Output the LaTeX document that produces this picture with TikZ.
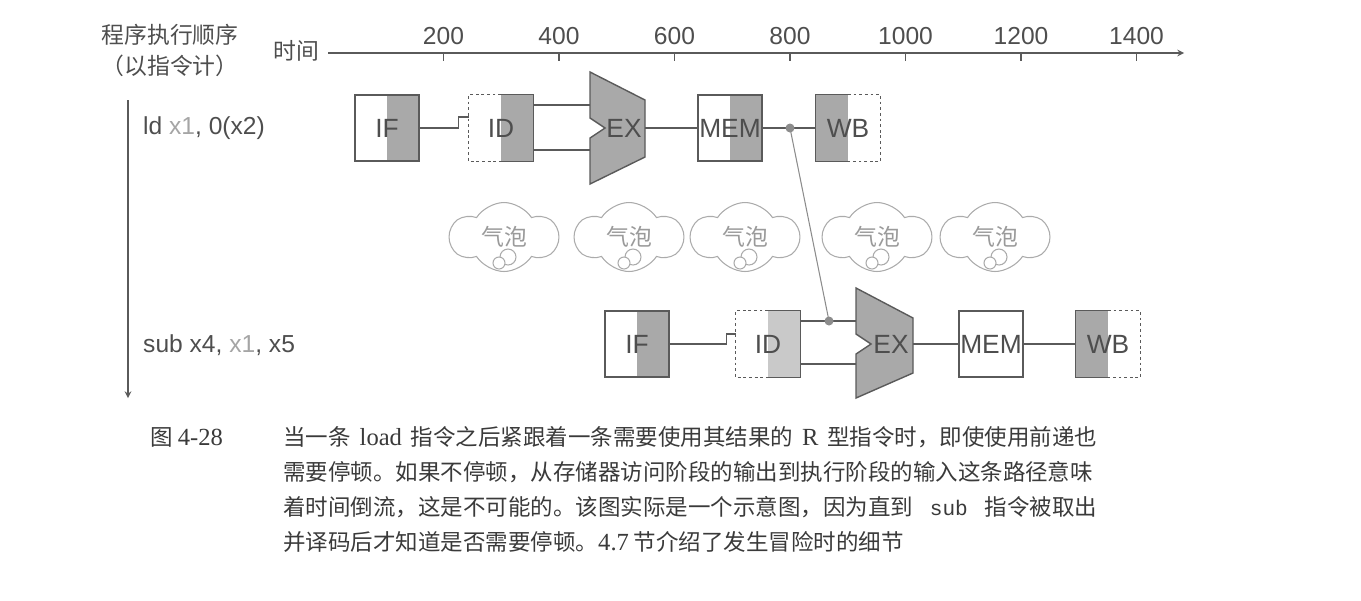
\documentclass[tikz,border=0pt]{standalone}
\usepackage{fontspec}
\setmainfont{Liberation Sans}
\newfontfamily\cjk{Noto Sans CJK SC}
\newfontfamily\capserif{Liberation Serif}
\newfontfamily\capmono{Liberation Mono}
\usetikzlibrary{shapes.symbols}
\XeTeXlinebreaklocale "zh"
\XeTeXlinebreakskip=0pt plus 3pt minus 0.3pt

\definecolor{linegray}{HTML}{5A5A5A}
\definecolor{stagegray}{HTML}{A9A9A9}
\definecolor{lightstage}{HTML}{C9C9C9}
\definecolor{txtgray}{HTML}{4E4E4E}
\definecolor{reggray}{HTML}{A5A5A5}
\definecolor{cloudgray}{HTML}{ABABAB}
\definecolor{bubbletext}{HTML}{9A9A9A}
\definecolor{dotgray}{HTML}{8C8C8C}
\definecolor{captext}{HTML}{3A3A3A}

\tikzset{
  wire/.style={draw=linegray, line width=0.8pt},
  stage/.style={rectangle, minimum width=1.28cm, minimum height=1.32cm, inner sep=0pt,
    text=txtgray, font=\fontsize{15}{15}\selectfont},
  grayright/.style={path picture={\fill[#1] (path picture bounding box.north) rectangle (path picture bounding box.south east);}},
  grayleft/.style={path picture={\fill[#1] (path picture bounding box.north west) rectangle (path picture bounding box.south);}},
  halfdash/.style={draw=linegray, line width=0.8pt, dash pattern=on 1.6pt off 1.6pt},
  alu/.style={fill=stagegray, draw=linegray, line width=0.8pt},
  bubble/.style={cloud, cloud puffs=6, cloud puff arc=115, aspect=1.6, draw=cloudgray, line width=0.6pt,
    minimum width=2.15cm, minimum height=1.38cm, text=bubbletext, font=\cjk\fontsize{13}{13}\selectfont},
  fwddot/.style={circle, fill=dotgray, inner sep=0pt, minimum size=0.18cm},
  lbl/.style={text=txtgray, font=\fontsize{14}{14}\selectfont},
  capt/.style={text=captext, inner sep=0pt, font=\cjk\fontsize{12.8}{12.8}\selectfont},
}

\begin{document}
\begin{tikzpicture}[x=0.02cm, y=-0.02cm]
\useasboundingbox (0,0) rectangle (1361,600);

% axes
\node[lbl, font=\cjk\fontsize{13}{13}\selectfont] (order) at (170,35) {程序执行顺序};
\node[lbl, font=\cjk\fontsize{13}{13}\selectfont] (ordernote) at (170,66) {（以指令计）};
\node[lbl, font=\cjk\fontsize{13}{13}\selectfont] (time) at (296,51) {时间};
\coordinate (tstart) at (328,53);
\coordinate (tend) at (1184,53);
\draw[wire, line width=0.7pt, -stealth] (tstart) -- (tend);
\foreach \t in {200,400,...,1400} {
  \draw[wire, line width=0.7pt] (328+0.5775*\t,53) -- (328+0.5775*\t,61);
  \node[lbl] (tick\t) at (328+0.5775*\t,36) {\t};
}
\coordinate (otop) at (128,100);
\coordinate (obot) at (128,398);
\draw[wire, line width=0.7pt, -stealth] (otop) -- (obot);

\node[lbl, anchor=west] (instr1) at (137,128) {ld \textcolor{reggray}{x1}, 0(x2)};
\node[lbl, anchor=west] (instr2) at (137,345) {sub x4, \textcolor{reggray}{x1}, x5};

% ld pipeline
\node[stage, grayright=stagegray, draw=linegray, line width=0.8pt] (if1) at (387,128) {IF};
\node[stage, grayright=stagegray] (id1) at (501,128) {ID};
\draw[wire] (id1.north) -| (id1.east) |- (id1.south);
\draw[halfdash] (id1.north) -- (id1.north west) -- (id1.south west) -- (id1.south);
\filldraw[alu] (590,72) -- (645,100) -- (645,157) -- (590,184) -- (590,138) -- (605,128) -- (590,118) -- cycle;
\node[stage, minimum width=0.8cm] (ex1) at (624,128) {EX};
\coordinate (ex1a) at (590,105);
\coordinate (ex1b) at (590,150);
\coordinate (ex1o) at (645,128);
\node[stage, grayright=stagegray, draw=linegray, line width=0.8pt] (mem1) at (730,128) {MEM};
\node[stage, grayleft=stagegray] (wb1) at (848,128) {WB};
\draw[wire] (wb1.north) -| (wb1.west) |- (wb1.south);
\draw[halfdash] (wb1.north) -- (wb1.north east) -- (wb1.south east) -- (wb1.south);

\draw[wire] (if1.east) -- ++(39,0) |- ([yshift=0.22cm]id1.west);
\draw[wire] (id1.east |- ex1a) -- (ex1a);
\draw[wire] (id1.east |- ex1b) -- (ex1b);
\draw[wire] (ex1o) -- (mem1);
\draw[wire] (mem1) -- (wb1);

% bubbles
\foreach \cx [count=\i] in {504,629,745,877,995} {
  \node[bubble] (bub\i) at (\cx,237) {气泡};
  \draw[draw=cloudgray, line width=0.6pt, fill=white] (\cx+4,257) circle (0.16cm);
  \draw[draw=cloudgray, line width=0.6pt, fill=white] (\cx-5,263) circle (0.12cm);
}

% sub pipeline
\node[stage, grayright=stagegray, draw=linegray, line width=0.8pt] (if2) at (637,344) {IF};
\node[stage, grayright=lightstage] (id2) at (768,344) {ID};
\draw[wire] (id2.north) -| (id2.east) |- (id2.south);
\draw[halfdash] (id2.north) -- (id2.north west) -- (id2.south west) -- (id2.south);
\filldraw[alu] (856,288) -- (913,318) -- (913,373) -- (856,398) -- (856,354) -- (871,344) -- (856,334) -- cycle;
\node[stage, minimum width=0.8cm] (ex2) at (891,344) {EX};
\coordinate (ex2a) at (856,321);
\coordinate (ex2b) at (856,364);
\coordinate (ex2o) at (913,344);
\node[stage, draw=linegray, line width=0.8pt] (mem2) at (991,344) {MEM};
\node[stage, grayleft=stagegray] (wb2) at (1108,344) {WB};
\draw[wire] (wb2.north) -| (wb2.west) |- (wb2.south);
\draw[halfdash] (wb2.north) -- (wb2.north east) -- (wb2.south east) -- (wb2.south);

\draw[wire] (if2.east) -- ++(57,0) |- ([yshift=0.2cm]id2.west);
\draw[wire] (id2.east |- ex2a) -- (ex2a);
\draw[wire] (id2.east |- ex2b) -- (ex2b);
\draw[wire] (ex2o) -- (mem2);
\draw[wire] (mem2) -- (wb2);

% forwarding in time backwards
\coordinate (fwd1) at (790,128);
\coordinate (fwd2) at (829,321);
\draw[draw=dotgray, line width=0.6pt] (fwd1) -- (fwd2);
\node[fwddot] (dot1) at (fwd1) {};
\node[fwddot] (dot2) at (fwd2) {};

% caption
\node[capt, anchor=west] (figno) at (150,437) {图 {\capserif\fontsize{14}{14}\selectfont 4-28}};
\node[capt, anchor=west] (cap1) at (283,437) {\makebox[16.28cm][s]{当一条 {\capserif\fontsize{14}{14}\selectfont load} 指令之后紧跟着一条需要使用其结果的 {\capserif\fontsize{14}{14}\selectfont R} 型指令时，即使使用前递也}};
\node[capt, anchor=west] (cap2) at (283,472) {\makebox[16.28cm][s]{需要停顿。如果不停顿，从存储器访问阶段的输出到执行阶段的输入这条路径意味}};
\node[capt, anchor=west] (cap3) at (283,507) {\makebox[16.28cm][s]{着时间倒流，这是不可能的。该图实际是一个示意图，因为直到 {\capmono\fontsize{12}{12}\selectfont sub} 指令被取出}};
\node[capt, anchor=west] (cap4) at (283,542) {并译码后才知道是否需要停顿。{\capserif\fontsize{14}{14}\selectfont 4.7} 节介绍了发生冒险时的细节};
\end{tikzpicture}
\end{document}
